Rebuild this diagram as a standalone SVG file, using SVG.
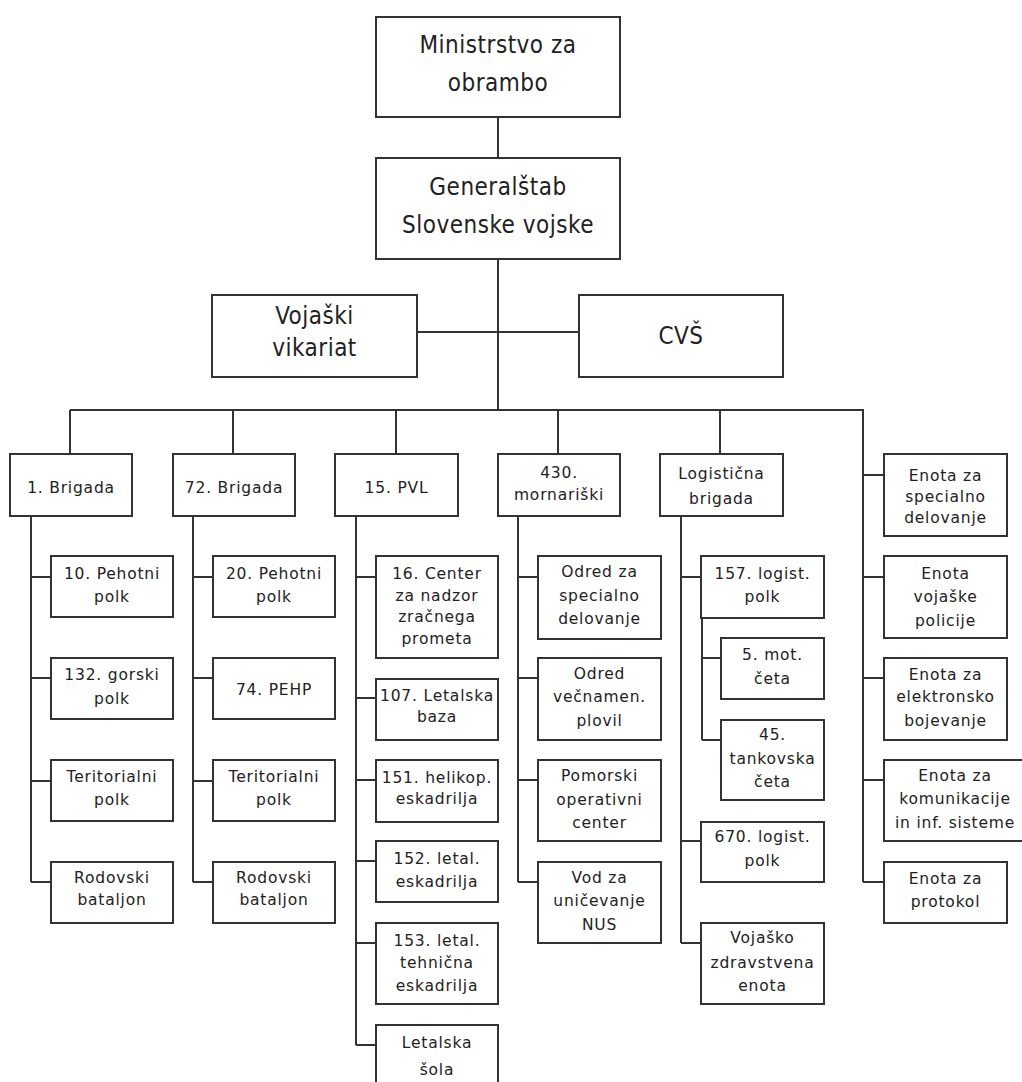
<svg xmlns="http://www.w3.org/2000/svg" width="1022" height="1082" viewBox="0 0 1022 1082">
<style>
rect{fill:#fff;stroke:#333;stroke-width:2}
.c path{fill:none;stroke:#333;stroke-width:2}
text{fill:#222;text-anchor:middle}
.t{font-family:"DejaVu Sans Condensed","DejaVu Sans",sans-serif;font-size:24px;letter-spacing:0.5px}
.s{font-family:"DejaVu Sans",sans-serif;font-size:15.5px;letter-spacing:0.8px}
</style>
<rect x="0" y="0" width="1022" height="1082" style="fill:#fff;stroke:none"/>
<g class="c" id="connectors">
<path d="M498 117V158M498 259V410M417 332H579M70 410H864M70 410V454M233 410V454M396 410V454M558 410V454M720 410V454"/>
<path d="M31 516V882M31 577H51M31 678H51M31 781H51M31 882H51"/>
<path d="M193 516V882M193 577H213M193 678H213M193 781H213M193 882H213"/>
<path d="M356 516V1045M356 577H376M356 698H376M356 780H376M356 861H376M356 943H376M356 1045H376"/>
<path d="M518 516V882M518 577H538M518 678H538M518 780H538M518 882H538"/>
<path d="M681 516V943M681 577H701M681 841H701M681 943H701M702 618V740M702 658H721M702 740H721"/>
<path d="M863 410V882M863 475H884M863 577H884M863 678H884M863 780H884M863 882H884"/>
</g>
<g id="n-ministrstvo"><rect x="376" y="17" width="244" height="100"/><text class="t" x="498" y="53">Ministrstvo za</text><text class="t" x="498" y="91">obrambo</text></g>
<g id="n-generalstab"><rect x="376" y="158" width="244" height="101"/><text class="t" x="498" y="195">Generalštab</text><text class="t" x="498" y="233">Slovenske vojske</text></g>
<g id="n-vikariat"><rect x="212" y="295" width="205" height="82"/><text class="t" x="314.5" y="323.5">Vojaški</text><text class="t" x="314.5" y="356">vikariat</text></g>
<g id="n-cvs"><rect x="579" y="295" width="204" height="82"/><text class="t" x="681" y="344">CVŠ</text></g>

<g id="n-1brigada"><rect x="10" y="454" width="122" height="62"/><text class="s" x="71" y="493">1. Brigada</text></g>
<g id="n-72brigada"><rect x="173" y="454" width="122" height="62"/><text class="s" x="234" y="493">72. Brigada</text></g>
<g id="n-15pvl"><rect x="335" y="454" width="123" height="62"/><text class="s" x="396.5" y="493">15. PVL</text></g>
<g id="n-430"><rect x="498" y="454" width="122" height="62"/><text class="s" x="559" y="478">430.</text><text class="s" x="559" y="500">mornariški</text></g>
<g id="n-logbrig"><rect x="660" y="454" width="123" height="62"/><text class="s" x="721.5" y="478.5">Logistična</text><text class="s" x="721.5" y="504">brigada</text></g>

<g id="n-10pehotni"><rect x="51" y="556" width="122" height="61"/><text class="s" x="112" y="578.5">10. Pehotni</text><text class="s" x="112" y="602">polk</text></g>
<g id="n-132gorski"><rect x="51" y="658" width="122" height="61"/><text class="s" x="112" y="680">132. gorski</text><text class="s" x="112" y="704">polk</text></g>
<g id="n-terit1"><rect x="51" y="760" width="122" height="61"/><text class="s" x="112" y="781.5">Teritorialni</text><text class="s" x="112" y="805">polk</text></g>
<g id="n-rodov1"><rect x="51" y="862" width="122" height="61"/><text class="s" x="112" y="882.5">Rodovski</text><text class="s" x="112" y="905">bataljon</text></g>

<g id="n-20pehotni"><rect x="213" y="556" width="122" height="61"/><text class="s" x="274" y="578.5">20. Pehotni</text><text class="s" x="274" y="602">polk</text></g>
<g id="n-74pehp"><rect x="213" y="658" width="122" height="61"/><text class="s" x="274" y="695">74. PEHP</text></g>
<g id="n-terit2"><rect x="213" y="760" width="122" height="61"/><text class="s" x="274" y="781.5">Teritorialni</text><text class="s" x="274" y="805">polk</text></g>
<g id="n-rodov2"><rect x="213" y="862" width="122" height="61"/><text class="s" x="274" y="882.5">Rodovski</text><text class="s" x="274" y="905">bataljon</text></g>

<g id="n-16center"><rect x="376" y="556" width="122" height="102"/><text class="s" x="437" y="579">16. Center</text><text class="s" x="437" y="600.5">za nadzor</text><text class="s" x="437" y="622">zračnega</text><text class="s" x="437" y="643.5">prometa</text></g>
<g id="n-107"><rect x="376" y="679" width="122" height="61"/><text class="s" x="437" y="701">107. Letalska</text><text class="s" x="437" y="722">baza</text></g>
<g id="n-151"><rect x="376" y="760" width="122" height="62"/><text class="s" x="437" y="783">151. helikop.</text><text class="s" x="437" y="804">eskadrilja</text></g>
<g id="n-152"><rect x="376" y="841" width="122" height="61"/><text class="s" x="437" y="864">152. letal.</text><text class="s" x="437" y="887">eskadrilja</text></g>
<g id="n-153"><rect x="376" y="923" width="122" height="81"/><text class="s" x="437" y="946">153. letal.</text><text class="s" x="437" y="968">tehnična</text><text class="s" x="437" y="991">eskadrilja</text></g>
<g id="n-letsola"><rect x="376" y="1025" width="122" height="80"/><text class="s" x="437" y="1048">Letalska</text><text class="s" x="437" y="1075">šola</text></g>

<g id="n-odredspec"><rect x="538" y="556" width="123" height="83"/><text class="s" x="599.5" y="577">Odred za</text><text class="s" x="599.5" y="601">specialno</text><text class="s" x="599.5" y="624">delovanje</text></g>
<g id="n-odredvec"><rect x="538" y="658" width="123" height="82"/><text class="s" x="599.5" y="678.5">Odred</text><text class="s" x="599.5" y="702">večnamen.</text><text class="s" x="599.5" y="726">plovil</text></g>
<g id="n-pomorski"><rect x="538" y="760" width="123" height="81"/><text class="s" x="599.5" y="780.5">Pomorski</text><text class="s" x="599.5" y="805">operativni</text><text class="s" x="599.5" y="828">center</text></g>
<g id="n-vod"><rect x="538" y="862" width="123" height="81"/><text class="s" x="599.5" y="882.5">Vod za</text><text class="s" x="599.5" y="906">uničevanje</text><text class="s" x="599.5" y="929.5">NUS</text></g>

<g id="n-157"><rect x="701" y="556" width="123" height="62"/><text class="s" x="762.5" y="578.5">157. logist.</text><text class="s" x="762.5" y="602">polk</text></g>
<g id="n-5mot"><rect x="721" y="638" width="103" height="61"/><text class="s" x="772.5" y="660">5. mot.</text><text class="s" x="772.5" y="684">četa</text></g>
<g id="n-45tank"><rect x="721" y="720" width="103" height="80"/><text class="s" x="772.5" y="740">45.</text><text class="s" x="772.5" y="763.5">tankovska</text><text class="s" x="772.5" y="786.5">četa</text></g>
<g id="n-670"><rect x="701" y="822" width="123" height="60"/><text class="s" x="762.5" y="842">670. logist.</text><text class="s" x="762.5" y="865.5">polk</text></g>
<g id="n-vzenota"><rect x="701" y="923" width="123" height="81"/><text class="s" x="762.5" y="943">Vojaško</text><text class="s" x="762.5" y="967.5">zdravstvena</text><text class="s" x="762.5" y="991">enota</text></g>

<g id="n-enspec"><rect x="884" y="454" width="123" height="82"/><text class="s" x="945.5" y="480.5">Enota za</text><text class="s" x="945.5" y="502">specialno</text><text class="s" x="945.5" y="522.5">delovanje</text></g>
<g id="n-enpol"><rect x="884" y="556" width="123" height="82"/><text class="s" x="945.5" y="578.5">Enota</text><text class="s" x="945.5" y="602">vojaške</text><text class="s" x="945.5" y="625.5">policije</text></g>
<g id="n-enelek"><rect x="884" y="658" width="123" height="82"/><text class="s" x="945.5" y="679.5">Enota za</text><text class="s" x="945.5" y="702">elektronsko</text><text class="s" x="945.5" y="726">bojevanje</text></g>
<g id="n-enkom"><rect x="884" y="760" width="142" height="81"/><text class="s" x="955" y="780.5">Enota za</text><text class="s" x="955" y="804">komunikacije</text><text class="s" x="955" y="827.5">in inf. sisteme</text></g>
<g id="n-enprot"><rect x="884" y="862" width="123" height="61"/><text class="s" x="945.5" y="884">Enota za</text><text class="s" x="945.5" y="907">protokol</text></g>
</svg>
